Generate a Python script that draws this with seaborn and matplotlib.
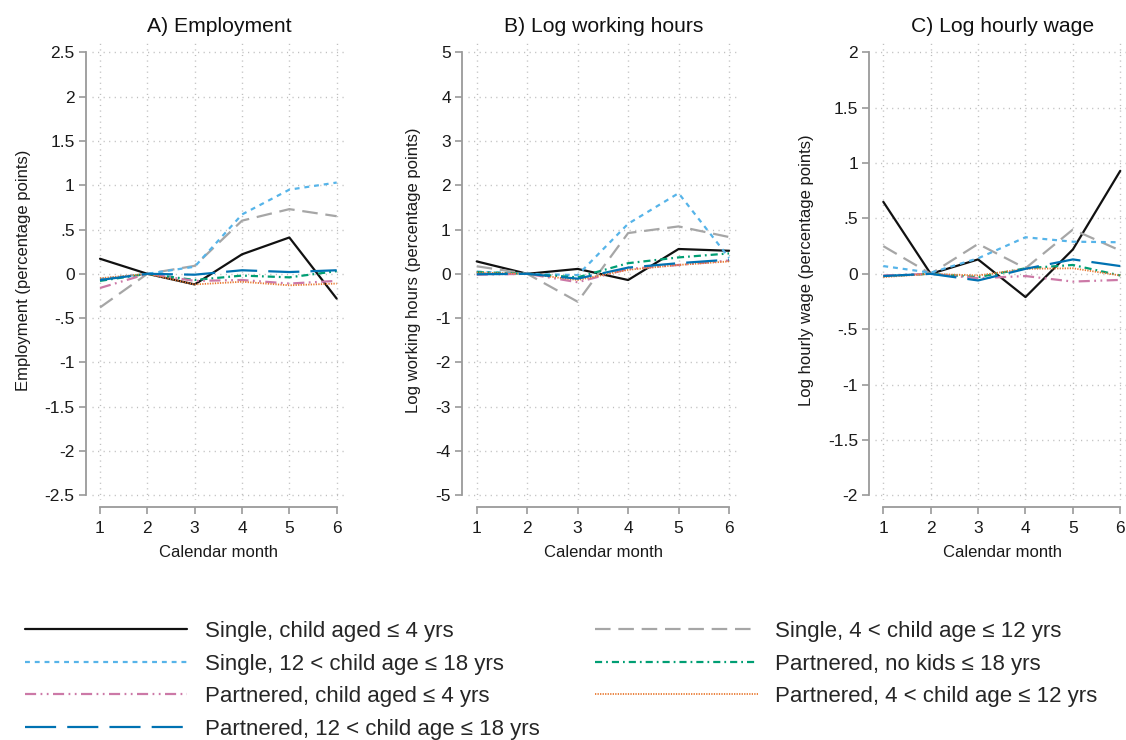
import numpy as np
import pandas as pd
import matplotlib
matplotlib.use("Agg")
import matplotlib.pyplot as plt
import seaborn as sns
from matplotlib.lines import Line2D
from matplotlib.ticker import FixedLocator, FixedFormatter

# ---------------- data ----------------
months = [1, 2, 3, 4, 5, 6]

groups = [
    "Single, child aged \u2264 4 yrs",
    "Single, 4 < child age \u2264 12 yrs",
    "Single, 12 < child age \u2264 18 yrs",
    "Partnered, no kids \u2264 18 yrs",
    "Partnered, child aged \u2264 4 yrs",
    "Partnered, 4 < child age \u2264 12 yrs",
    "Partnered, 12 < child age \u2264 18 yrs",
]

# A) Employment
emp_single_u4 = [0.17, 0.0, -0.12, 0.22, 0.41, -0.28]
emp_single_4_12 = [-0.38, 0.0, 0.09, 0.60, 0.73, 0.65]
emp_single_12_18 = [-0.06, 0.0, 0.08, 0.67, 0.95, 1.03]
emp_part_nokids = [-0.08, 0.0, -0.07, -0.02, -0.04, 0.03]
emp_part_u4 = [-0.16, 0.0, -0.08, -0.07, -0.11, -0.08]
emp_part_4_12 = [-0.05, 0.0, -0.12, -0.09, -0.13, -0.11]
emp_part_12_18 = [-0.07, 0.0, -0.01, 0.04, 0.02, 0.04]

# B) Log working hours
hrs_single_u4 = [0.28, 0.0, 0.11, -0.14, 0.56, 0.52]
hrs_single_4_12 = [0.17, 0.0, -0.63, 0.92, 1.07, 0.83]
hrs_single_12_18 = [0.05, 0.0, -0.03, 1.13, 1.82, 0.36]
hrs_part_nokids = [0.04, 0.0, -0.08, 0.24, 0.37, 0.46]
hrs_part_u4 = [-0.02, 0.0, -0.19, 0.11, 0.20, 0.30]
hrs_part_4_12 = [0.03, 0.0, -0.14, 0.09, 0.20, 0.28]
hrs_part_12_18 = [-0.01, 0.0, -0.11, 0.14, 0.24, 0.32]

# C) Log hourly wage
wage_single_u4 = [0.65, 0.0, 0.13, -0.21, 0.22, 0.93]
wage_single_4_12 = [0.25, 0.0, 0.27, 0.05, 0.40, 0.21]
wage_single_12_18 = [0.07, 0.01, 0.14, 0.33, 0.29, 0.285]
wage_part_nokids = [-0.02, 0.0, -0.03, 0.05, 0.08, -0.015]
wage_part_u4 = [-0.015, 0.0, -0.04, -0.02, -0.07, -0.055]
wage_part_4_12 = [-0.03, 0.0, -0.015, 0.045, 0.05, -0.015]
wage_part_12_18 = [-0.02, 0.0, -0.06, 0.045, 0.13, 0.07]

panel_titles = ["A) Employment", "B) Log working hours", "C) Log hourly wage"]
panel_ylabels = ["Employment (percentage points)",
                 "Log working hours (percentage points)",
                 "Log hourly wage (percentage points)"]
xlabel = "Calendar month"

ticks_A = [-2.5, -2, -1.5, -1, -0.5, 0, 0.5, 1, 1.5, 2, 2.5]
labels_A = ["-2.5", "-2", "-1.5", "-1", "-.5", "0", ".5", "1", "1.5", "2", "2.5"]
ticks_B = [-5, -4, -3, -2, -1, 0, 1, 2, 3, 4, 5]
labels_B = ["-5", "-4", "-3", "-2", "-1", "0", "1", "2", "3", "4", "5"]
ticks_C = [-2, -1.5, -1, -0.5, 0, 0.5, 1, 1.5, 2]
labels_C = ["-2", "-1.5", "-1", "-.5", "0", ".5", "1", "1.5", "2"]

panels = [
    [emp_single_u4, emp_single_4_12, emp_single_12_18, emp_part_nokids,
     emp_part_u4, emp_part_4_12, emp_part_12_18],
    [hrs_single_u4, hrs_single_4_12, hrs_single_12_18, hrs_part_nokids,
     hrs_part_u4, hrs_part_4_12, hrs_part_12_18],
    [wage_single_u4, wage_single_4_12, wage_single_12_18, wage_part_nokids,
     wage_part_u4, wage_part_4_12, wage_part_12_18],
]

# ---------------- styles ----------------
colors = ["#111111", "#A6A6A6", "#56B4E9", "#009E73", "#CC79A7", "#E8772E", "#0072B2"]
dash_patterns = ["", (7, 3.5), (2.2, 2.2), (3.2, 1.8, 0.8, 1.8),
                 (5, 2, 0.8, 2, 0.8, 2), (0.7, 0.7), (14, 5)]
palette = dict(zip(groups, colors))
dashes = dict(zip(groups, dash_patterns))

sns.set_style("white")
plt.rcParams["font.family"] = ["Liberation Sans", "DejaVu Sans"]

W, H = 1126, 740
fig = plt.figure(figsize=(W / 100, H / 100), dpi=100)

# axes placement in pixels: (left, right), top=40, bottom=500
ax_px = [(92, 346), (468.2, 739), (875.3, 1129.6)]
top_px, bot_px = 40, 500
ylims = [(-2.553, 2.639), (-5.106, 5.278), (-2.042, 2.111)]
xlim = (0.831, 6.197)
tick_sets = [(ticks_A, labels_A), (ticks_B, labels_B), (ticks_C, labels_C)]

spine_col = "#9A9A9A"
for i in range(3):
    l, r = ax_px[i]
    ax = fig.add_axes([l / W, 1 - bot_px / H, (r - l) / W, (bot_px - top_px) / H])
    df = pd.DataFrame({
        "month": np.tile(months, len(groups)),
        "value": np.concatenate([np.asarray(s, dtype=float) for s in panels[i]]),
        "group": np.repeat(groups, len(months)),
    })
    sns.lineplot(data=df, x="month", y="value", hue="group", style="group",
                 palette=palette, dashes=dashes, hue_order=groups, style_order=groups,
                 linewidth=1.6, legend=False, ax=ax)
    for line in ax.lines:
        if line.get_color() in ("#E8772E",):
            line.set_linewidth(1.3)
    ax.set_xlim(*xlim)
    ax.set_ylim(*ylims[i])
    tks, lbs = tick_sets[i]
    ax.yaxis.set_major_locator(FixedLocator(tks))
    ax.yaxis.set_major_formatter(FixedFormatter(lbs))
    ax.set_xticks(months)
    ax.set_xticklabels([str(m) for m in months])
    ax.grid(True, color="#BDBDBD", linestyle=(0, (0.8, 3.2)), linewidth=1.0)
    ax.set_axisbelow(True)
    for s in ["top", "right"]:
        ax.spines[s].set_visible(False)
    ax.spines["left"].set_position(("outward", 4.5))
    ax.spines["bottom"].set_position(("outward", 4.8))
    ax.spines["left"].set_bounds(tks[0], tks[-1])
    ax.spines["bottom"].set_bounds(1, 6)
    for s in ["left", "bottom"]:
        ax.spines[s].set_color(spine_col)
        ax.spines[s].set_linewidth(1.3)
    ax.tick_params(axis="both", which="major", length=5, width=1.2, color=spine_col,
                   labelsize=12.5, labelcolor="#1a1a1a", pad=3, left=True, bottom=True)
    ax.tick_params(axis="x", pad=5.5)
    ax.set_title(panel_titles[i], fontsize=15.2, pad=6, color="#111111")
    ax.set_xlabel(xlabel, fontsize=12, labelpad=6, color="#1a1a1a")
    ax.set_ylabel(panel_ylabels[i], fontsize=12, labelpad=10, color="#1a1a1a")

# ---------------- legend ----------------
handles = []
for g, c, d in zip(groups, colors, dash_patterns):
    h = Line2D([0], [0], color=c, linewidth=1.6 if c != "#E8772E" else 1.3)
    if d != "":
        h.set_dashes(d)
    handles.append(h)
order = [0, 2, 4, 6, 1, 3, 5]
fig.legend([handles[k] for k in order], [groups[k] for k in order],
           ncol=2, loc="upper left", bbox_to_anchor=(25 / W, 1 - 621 / H),
           frameon=False, fontsize=16, handlelength=7.3, handletextpad=0.8,
           columnspacing=2.5, labelspacing=0.52, borderpad=0, borderaxespad=0)

fig.savefig("out.png", dpi=100)
